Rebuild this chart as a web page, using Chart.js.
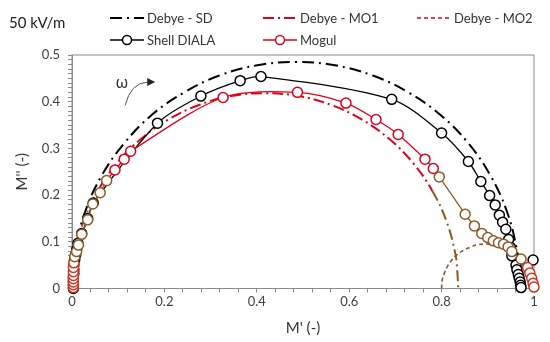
<!DOCTYPE html>
<html>
<head>
<meta charset="utf-8">
<script src="https://cdn.jsdelivr.net/npm/chart.js@4.4.1/dist/chart.umd.min.js"></script>
<style>
  html, body { margin: 0; padding: 0; background: #fff; }
  #wrap { width: 550px; height: 342px; }
</style>
</head>
<body>
<div id="wrap"><canvas id="chart"></canvas></div>
<script>
const fieldLabel = '50 kV/m';
const xTitle = "M' (-)";
const yTitle = "M'' (-)";

// Debye model curves
const sdX = [0, 0.002, 0.007, 0.029, 0.065, 0.114, 0.173, 0.243, 0.319, 0.401, 0.485, 0.569, 0.651, 0.728, 0.797, 0.857, 0.905, 0.941, 0.963, 0.968, 0.970];
const sdY = [0, 0.042, 0.084, 0.166, 0.243, 0.312, 0.372, 0.420, 0.456, 0.478, 0.485, 0.478, 0.456, 0.420, 0.372, 0.312, 0.243, 0.166, 0.084, 0.042, 0];

const mo1X = [0, 0.002, 0.006, 0.025, 0.056, 0.098, 0.149, 0.209, 0.275, 0.345, 0.418, 0.491, 0.561, 0.627, 0.687, 0.738, 0.780, 0.811, 0.830, 0.834, 0.836];
const mo1Y = [0, 0.036, 0.073, 0.143, 0.209, 0.269, 0.320, 0.362, 0.393, 0.412, 0.418, 0.412, 0.393, 0.362, 0.320, 0.269, 0.209, 0.143, 0.073, 0.036, 0];

const mo2X = [0.800, 0.801, 0.806, 0.813, 0.822, 0.834, 0.848, 0.863, 0.879, 0.895, 0.912, 0.928, 0.943, 0.956, 0.968, 0.977, 0.984, 0.989, 0.990];
const mo2Y = [0, 0.017, 0.033, 0.048, 0.061, 0.073, 0.082, 0.089, 0.094, 0.095, 0.094, 0.089, 0.082, 0.073, 0.061, 0.048, 0.033, 0.017, 0];

// measured points
const dialaX = [0.003, 0.003, 0.003, 0.003, 0.004, 0.004, 0.004, 0.006, 0.008, 0.010, 0.013, 0.021, 0.034, 0.046, 0.185, 0.279, 0.364, 0.409, 0.692, 0.800, 0.858, 0.885, 0.904, 0.916, 0.925, 0.932, 0.939, 0.945, 0.949, 0.952, 0.961, 0.963, 0.966, 0.968, 0.970, 0.971, 0.972, 0.985, 0.998];
const dialaY = [0.000, 0.008, 0.016, 0.024, 0.032, 0.040, 0.050, 0.062, 0.072, 0.083, 0.097, 0.118, 0.150, 0.183, 0.354, 0.412, 0.445, 0.454, 0.405, 0.333, 0.272, 0.229, 0.199, 0.179, 0.157, 0.142, 0.127, 0.105, 0.088, 0.070, 0.050, 0.040, 0.030, 0.022, 0.014, 0.007, 0.002, null, 0.061];

const mogulX = [0.003, 0.003, 0.003, 0.003, 0.003, 0.003, 0.003, 0.004, 0.006, 0.010, 0.014, 0.021, 0.034, 0.045, 0.061, 0.075, 0.093, 0.113, 0.127, 0.327, 0.488, 0.593, 0.658, 0.706, 0.764, 0.782, 0.795, 0.851, 0.871, 0.887, 0.900, 0.912, 0.923, 0.934, 0.944, 0.952, 0.972, 0.986, 0.991, 0.995, 0.998, 1.000];
const mogulY = [0.002, 0.008, 0.014, 0.021, 0.028, 0.036, 0.045, 0.055, 0.068, 0.079, 0.093, 0.116, 0.147, 0.181, 0.205, 0.231, 0.254, 0.277, 0.294, 0.409, 0.420, 0.397, 0.362, 0.330, 0.277, 0.257, 0.239, 0.159, 0.134, 0.118, 0.109, 0.102, 0.098, 0.095, 0.089, 0.079, 0.063, 0.045, 0.033, 0.022, 0.011, 0.003];

const RED = '#e0001a';
const BROWN = '#8b5a2b';
const LOWRED = '#cc3322';

function toPoints(xs, ys) {
  return xs.map((x, i) => ({ x: x, y: ys[i] }));
}

// lower part of the red curves shows up brownish in the figure
function lowSegment(hi) {
  return ctx => (ctx.p0.parsed.y < 0.245 && ctx.p1.parsed.y < 0.245) ? BROWN : hi;
}

function mogulPoint(ctx) {
  const v = ctx.raw ? ctx.raw.y : 1;
  if (v < 0.06) return LOWRED;
  if (v < 0.245) return BROWN;
  return RED;
}

const extras = {
  id: 'extras',
  beforeDatasetsDraw(chart) {
    const { ctx, chartArea: a } = chart;
    ctx.save();
    ctx.strokeStyle = '#8a8a8a';
    ctx.lineWidth = 1;
    ctx.strokeRect(a.left, a.top, a.right - a.left, a.bottom - a.top);
    ctx.restore();
  },
  afterDraw(chart) {
    const { ctx } = chart;
    const xs = chart.scales.x, ys = chart.scales.y;
    ctx.save();

    ctx.fillStyle = '#222';
    ctx.font = '15px Lato';
    ctx.textBaseline = 'middle';
    ctx.fillText(fieldLabel, 9, 23);

    // legend
    const slots = [[110, 18], [263, 18], [417, 18], [110, 40], [263, 40]];
    const names = ['Debye - SD', 'Debye - MO1', 'Debye - MO2', 'Shell DIALA', 'Mogul'];
    names.forEach((name, i) => {
      const ds = chart.data.datasets.find(d => d.label === name);
      const [lx, ly] = slots[i];
      ctx.strokeStyle = ds.borderColor;
      ctx.lineWidth = ds.borderWidth;
      ctx.setLineDash(ds.borderDash || []);
      ctx.beginPath();
      ctx.moveTo(lx, ly);
      ctx.lineTo(lx + 34, ly);
      ctx.stroke();
      ctx.setLineDash([]);
      if (ds.pointRadius > 0) {
        ctx.beginPath();
        ctx.arc(lx + 17, ly, 4.5, 0, Math.PI * 2);
        ctx.fillStyle = '#fff';
        ctx.fill();
        ctx.lineWidth = 1.5;
        ctx.strokeStyle = ds.borderColor;
        ctx.stroke();
      }
      ctx.fillStyle = '#333';
      ctx.font = '13px Lato';
      ctx.fillText(name, lx + 37, ly + 1);
    });

    // omega arrow
    ctx.fillStyle = '#333';
    ctx.font = '16px "Noto Sans"';
    ctx.textAlign = 'center';
    ctx.fillText('ω', xs.getPixelForValue(0.108), ys.getPixelForValue(0.440));
    ctx.strokeStyle = '#555';
    ctx.lineWidth = 1;
    ctx.beginPath();
    ctx.moveTo(xs.getPixelForValue(0.115), ys.getPixelForValue(0.392));
    ctx.quadraticCurveTo(xs.getPixelForValue(0.127), ys.getPixelForValue(0.440),
                         xs.getPixelForValue(0.163), ys.getPixelForValue(0.442));
    ctx.stroke();
    const tx = xs.getPixelForValue(0.180), ty = ys.getPixelForValue(0.442);
    ctx.fillStyle = '#222';
    ctx.beginPath();
    ctx.moveTo(tx, ty);
    ctx.lineTo(tx - 8, ty - 4);
    ctx.lineTo(tx - 8, ty + 4);
    ctx.closePath();
    ctx.fill();
    ctx.restore();
  }
};

const ctx = document.getElementById('chart').getContext('2d');
new Chart(ctx, {
  type: 'scatter',
  data: {
    datasets: [
      {
        label: 'Mogul',
        data: toPoints(mogulX, mogulY),
        showLine: true,
        borderColor: RED,
        borderWidth: 1.3,
        segment: { borderColor: lowSegment(RED) },
        pointRadius: 5,
        pointBorderWidth: 1.5,
        pointBackgroundColor: '#fff',
        pointBorderColor: mogulPoint,
        tension: 0.3,
        clip: 10,
        order: 0
      },
      {
        label: 'Shell DIALA',
        data: toPoints(dialaX, dialaY),
        showLine: true,
        spanGaps: false,
        borderColor: '#000',
        borderWidth: 1.3,
        pointRadius: 5,
        pointBorderWidth: 1.5,
        pointBackgroundColor: '#fff',
        pointBorderColor: '#000',
        tension: 0.3,
        clip: 10,
        order: 1
      },
      {
        label: 'Debye - SD',
        data: toPoints(sdX, sdY),
        showLine: true,
        borderColor: '#000',
        borderWidth: 2,
        borderDash: [12, 5, 2, 5],
        pointRadius: 0,
        tension: 0.4,
        order: 2
      },
      {
        label: 'Debye - MO1',
        data: toPoints(mo1X, mo1Y),
        showLine: true,
        borderColor: RED,
        borderWidth: 2,
        borderDash: [11, 4, 2, 4],
        segment: { borderColor: lowSegment(RED) },
        pointRadius: 0,
        tension: 0.4,
        order: 3
      },
      {
        label: 'Debye - MO2',
        data: toPoints(mo2X, mo2Y),
        showLine: true,
        borderColor: RED,
        borderWidth: 1.6,
        borderDash: [4, 3],
        segment: { borderColor: lowSegment(RED) },
        pointRadius: 0,
        tension: 0.4,
        order: 4
      }
    ]
  },
  options: {
    responsive: true,
    maintainAspectRatio: false,
    animation: false,
    events: [],
    layout: { padding: { left: 0, right: 16, top: 55, bottom: 0 } },
    plugins: {
      legend: { display: false },
      tooltip: { enabled: false }
    },
    scales: {
      x: {
        type: 'linear',
        min: 0,
        max: 1,
        afterFit: s => { s.height = 53.5; },
        border: { display: true, color: '#8a8a8a' },
        grid: { drawOnChartArea: false, drawTicks: true, tickLength: 4, color: '#8a8a8a' },
        ticks: {
          stepSize: 0.04,
          maxTicksLimit: 100,
          autoSkip: false,
          maxRotation: 0,
          padding: 2,
          color: '#404040',
          font: { family: 'Lato', size: 13 },
          callback: v => Math.abs(v * 5 - Math.round(v * 5)) < 1e-6 ? String(Math.round(v * 10) / 10) : ''
        },
        title: {
          display: true,
          text: xTitle,
          color: '#333',
          font: { family: 'Lato', size: 15 },
          padding: { top: 0, bottom: 5 }
        }
      },
      y: {
        type: 'linear',
        min: 0,
        max: 0.5,
        afterFit: s => { s.width = 72; },
        border: { display: true, color: '#8a8a8a' },
        grid: { drawOnChartArea: false, drawTicks: true, tickLength: 4, color: '#8a8a8a' },
        ticks: {
          stepSize: 0.01,
          maxTicksLimit: 100,
          autoSkip: false,
          padding: 8,
          color: '#404040',
          font: { family: 'Lato', size: 13 },
          callback: v => Math.abs(v * 10 - Math.round(v * 10)) < 1e-6 ? String(Math.round(v * 10) / 10) : ''
        },
        title: {
          display: true,
          text: yTitle,
          color: '#333',
          font: { family: 'Lato', size: 15 },
          padding: { top: 13, bottom: 0 }
        }
      }
    }
  },
  plugins: [extras]
});
</script>
</body>
</html>
